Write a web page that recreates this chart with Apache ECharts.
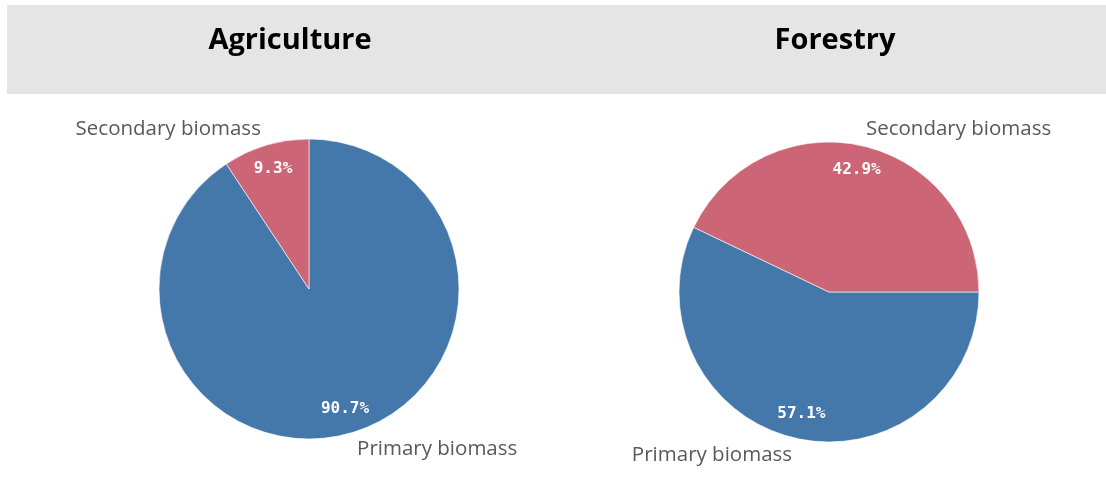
<!DOCTYPE html>
<html>
<head>
<meta charset="utf-8">
<script src="https://cdn.jsdelivr.net/npm/echarts@6/dist/echarts.min.js"></script>
<style>
  html, body { margin: 0; padding: 0; background: #fff; }
  #chart { width: 1106px; height: 478px; }
</style>
</head>
<body>
<div id="chart"></div>
<script>
// data
const sectors = ["Agriculture", "Forestry"];
const categories = ["Primary biomass", "Secondary biomass"];
const agricultureShares = [90.7, 9.3];
const forestryShares = [57.1, 42.9];
const sliceColors = ["#4477aa", "#cc6677"];

var dom = document.getElementById("chart");
var myChart = echarts.init(dom, null, { renderer: "canvas" });

function toData(values) {
  return values.map((v, i) => ({
    name: categories[i],
    value: v,
    itemStyle: { color: sliceColors[i] },
  }));
}

// 饼图本体 + 外侧名称标签
function namePie(values, center, startAngle) {
  return {
    type: "pie",
    center: center,
    radius: [0, 150],
    startAngle: startAngle,
    clockwise: true,
    animation: false,
    silent: true,
    data: toData(values),
    itemStyle: { borderColor: "#fff", borderWidth: 0.6 },
    label: {
      show: true,
      position: "outside",
      formatter: "{b}",
      color: "#595959",
      fontFamily: "Open Sans",
      fontSize: 20.5,
      distanceToLabelLine: 0,
    },
    labelLine: { show: false, length: 17, length2: 0 },
  };
}

// 透明叠加层，只显示百分比
function percentPie(values, center, startAngle) {
  return {
    type: "pie",
    center: center,
    radius: [94, 150],
    startAngle: startAngle,
    clockwise: true,
    animation: false,
    silent: true,
    data: toData(values).map((d) => ({ ...d, itemStyle: { color: "rgba(0,0,0,0)" } })),
    label: {
      show: true,
      position: "inside",
      formatter: (p) => p.value.toFixed(1) + "%",
      color: "#fff",
      fontFamily: "DejaVu Sans Mono",
      fontWeight: "bold",
      fontSize: 16,
    },
    labelLine: { show: false },
  };
}

const option = {
  backgroundColor: "#fff",
  graphic: [
    {
      type: "rect",
      shape: { x: 7, y: 5, width: 1099, height: 89 },
      style: { fill: "#e5e5e5" },
      z: -10,
    },
  ],
  title: [
    {
      text: sectors[0],
      left: 285,
      top: 21,
      textAlign: "center",
      textStyle: { fontFamily: "Open Sans", fontWeight: "bold", fontSize: 29, color: "#000" },
    },
    {
      text: sectors[1],
      left: 830,
      top: 21,
      textAlign: "center",
      textStyle: { fontFamily: "Open Sans", fontWeight: "bold", fontSize: 29, color: "#000" },
    },
  ],
  series: [
    namePie(agricultureShares, [309, 289], 90),
    percentPie(agricultureShares, [309, 289], 90),
    namePie(forestryShares, [829, 292], 0),
    percentPie(forestryShares, [829, 292], 0),
  ],
};

myChart.setOption(option);
window.addEventListener("resize", () => myChart.resize());
</script>
</body>
</html>
